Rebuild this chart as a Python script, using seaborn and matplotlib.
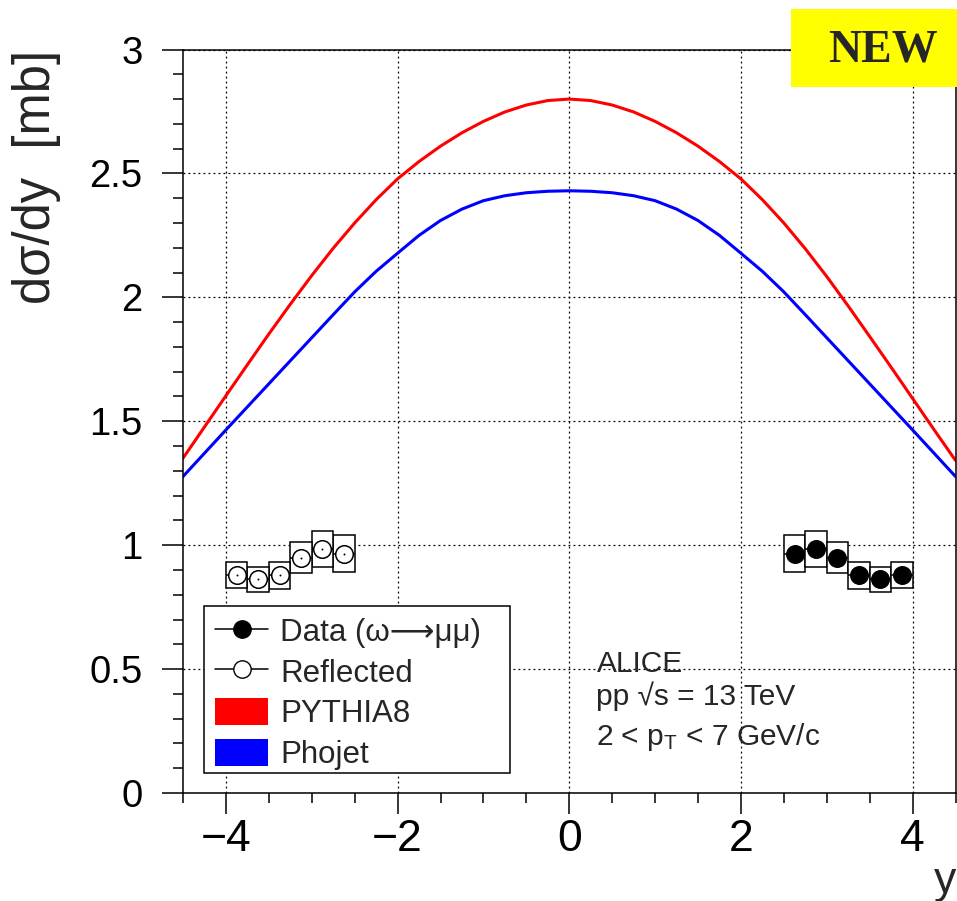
import numpy as np
import pandas as pd
import matplotlib
matplotlib.use("Agg")
import matplotlib.pyplot as plt
import seaborn as sns
from matplotlib.lines import Line2D
from matplotlib.patches import Patch, Rectangle
from matplotlib.ticker import MultipleLocator

# ---------------- data ----------------
rap_grid = [-4.5, -4.25, -4.0, -3.75, -3.5, -3.25, -3.0, -2.75, -2.5, -2.25, -2.0,
            -1.75, -1.5, -1.25, -1.0, -0.75, -0.5, -0.25, 0.0, 0.25, 0.5, 0.75, 1.0,
            1.25, 1.5, 1.75, 2.0, 2.25, 2.5, 2.75, 3.0, 3.25, 3.5, 3.75, 4.0, 4.25, 4.5]
pythia8 = [1.351, 1.477, 1.603, 1.728, 1.852, 1.972, 2.088, 2.198, 2.300, 2.394, 2.478,
           2.548, 2.610, 2.664, 2.710, 2.748, 2.776, 2.794, 2.800, 2.794, 2.776, 2.748,
           2.710, 2.664, 2.610, 2.548, 2.478, 2.394, 2.300, 2.196, 2.084, 1.965, 1.842,
           1.718, 1.592, 1.466, 1.342]
phojet = [1.277, 1.371, 1.465, 1.558, 1.651, 1.744, 1.837, 1.930, 2.022, 2.105, 2.178,
          2.250, 2.310, 2.356, 2.390, 2.410, 2.422, 2.428, 2.430, 2.428, 2.422, 2.410,
          2.390, 2.356, 2.310, 2.250, 2.178, 2.105, 2.022, 1.930, 1.837, 1.744, 1.651,
          1.558, 1.465, 1.371, 1.277]

data_rap = [2.625, 2.875, 3.125, 3.375, 3.625, 3.875]
data_val = [0.966, 0.985, 0.950, 0.878, 0.862, 0.880]
data_sys = [0.075, 0.074, 0.062, 0.053, 0.051, 0.052]
bin_halfwidth = 0.125
refl_rap = [-v for v in data_rap]

x_ticks = [-4, -2, 0, 2, 4]
y_ticks = [0, 0.5, 1, 1.5, 2, 2.5, 3]
y_ticklabels = ["0", "0.5", "1", "1.5", "2", "2.5", "3"]
x_ticklabels = ["\u22124", "\u22122", "0", "2", "4"]

# ---------------- style ----------------
sns.set_theme(style="white")
plt.rcParams["font.family"] = ["Liberation Sans", "DejaVu Sans"]
plt.rcParams["mathtext.fontset"] = "custom"
plt.rcParams["mathtext.rm"] = "Liberation Sans"
plt.rcParams["mathtext.it"] = "Liberation Sans:italic"

W, H = 957, 901
fig = plt.figure(figsize=(W / 100, H / 100), dpi=100)
ax_left, ax_right, ax_top, ax_bottom = 183, 955.5, 49.5, 793
ax = fig.add_axes([ax_left / W, 1 - ax_bottom / H,
                   (ax_right - ax_left) / W, (ax_bottom - ax_top) / H])


def ax_x(px):
    return (px - ax_left) / (ax_right - ax_left)


def ax_y(py):
    return (ax_bottom - py) / (ax_bottom - ax_top)


curves = pd.DataFrame({"y": rap_grid, "PYTHIA8": pythia8, "Phojet": phojet})

sns.lineplot(data=curves, x="y", y="PYTHIA8", color="#ff0000", linewidth=2.2,
             ax=ax, zorder=2)
sns.lineplot(data=curves, x="y", y="Phojet", color="#0000ff", linewidth=2.2,
             ax=ax, zorder=2)

# systematic boxes
ax.bar(data_rap, [2 * s for s in data_sys],
       bottom=[v - s for v, s in zip(data_val, data_sys)],
       width=2 * bin_halfwidth, color="white", edgecolor="black", linewidth=1.1, zorder=3)
ax.bar(refl_rap, [2 * s for s in data_sys],
       bottom=[v - s for v, s in zip(data_val, data_sys)],
       width=2 * bin_halfwidth, color="white", edgecolor="black", linewidth=1.1, zorder=3)

# horizontal bin-width lines
ax.errorbar(data_rap, data_val, xerr=bin_halfwidth, fmt="none", ecolor="black",
            elinewidth=1.1, capsize=0, zorder=4)
ax.errorbar(refl_rap, data_val, xerr=bin_halfwidth, fmt="none", ecolor="black",
            elinewidth=1.1, capsize=0, zorder=4)

pts = pd.DataFrame({"y": data_rap, "val": data_val})
refl = pd.DataFrame({"y": refl_rap, "val": data_val})
sns.scatterplot(data=pts, x="y", y="val", color="black", edgecolor="black",
                s=160, marker="o", ax=ax, zorder=5, linewidth=1.0)
sns.scatterplot(data=refl, x="y", y="val", color="white", edgecolor="black",
                s=160, marker="o", ax=ax, zorder=5, linewidth=1.1)
sns.scatterplot(data=refl, x="y", y="val", color="black", edgecolor="black",
                s=2, marker="o", ax=ax, zorder=6, linewidth=0)

# axes
ax.set_xlim(-4.5, 4.5)
ax.set_ylim(0, 3)
ax.set_xlabel("")
ax.set_ylabel("")
ax.set_xticks(x_ticks)
ax.set_xticklabels(x_ticklabels)
ax.set_yticks(y_ticks)
ax.set_yticklabels(y_ticklabels)
ax.xaxis.set_minor_locator(MultipleLocator(0.5))
ax.yaxis.set_minor_locator(MultipleLocator(0.1))
ax.tick_params(axis="x", which="major", direction="out", length=15, width=1.1,
               labelsize=32, pad=4, color="black", labelcolor="black",
               bottom=True, top=False)
ax.tick_params(axis="x", which="minor", direction="out", length=7.5, width=1.1,
               bottom=True, top=False, color="black")
ax.tick_params(axis="y", which="major", direction="out", length=15, width=1.1,
               labelsize=27.5, pad=14, color="black", labelcolor="black",
               left=True, right=False)
ax.tick_params(axis="y", which="minor", direction="out", length=7.5, width=1.1,
               left=True, right=False, color="black")
for sp in ax.spines.values():
    sp.set_visible(True)
    sp.set_color("black")
    sp.set_linewidth(1.1)

ax.grid(True, which="major", color="black", linewidth=0.9,
        linestyle=(0, (1.5, 2.5)))
ax.set_axisbelow(True)

# legend frame (drawn separately so its size matches the reference box)
leg_box = Rectangle((ax_x(203.5), ax_y(772.5)), ax_x(510) - ax_x(203.5),
                    ax_y(606) - ax_y(772.5), transform=ax.transAxes,
                    facecolor="white", edgecolor="black", linewidth=1.1, zorder=9)
ax.add_patch(leg_box)

handles = [
    Line2D([0], [0], color="black", lw=1.1, marker="o", markersize=12.5,
           markerfacecolor="black", markeredgecolor="black"),
    Line2D([0], [0], color="black", lw=1.1, marker="o", markersize=12.5,
           markerfacecolor="white", markeredgecolor="black"),
    Patch(facecolor="#ff0000", edgecolor="none"),
    Patch(facecolor="#0000ff", edgecolor="none"),
]
labels = ["Data (\u03c9\u27f6\u03bc\u03bc)", "Reflected", "PYTHIA8", "Phojet"]
leg = ax.legend(handles, labels, loc="upper left",
                bbox_to_anchor=(ax_x(215), ax_y(616.5)),
                frameon=False, fontsize=22.5, borderaxespad=0, borderpad=0,
                handlelength=1.7, handleheight=0.96, handletextpad=0.38,
                labelspacing=0.30)
leg.set_zorder(10)

# annotation text
tx = 596.5 / W
fig.text(tx, 1 - 672 / H, "ALICE", fontsize=21.5, va="baseline", ha="left")
fig.text(tx, 1 - 705 / H, "pp \u221as = 13 TeV", fontsize=21.5, va="baseline", ha="left")
fig.text(tx, 1 - 745 / H, r"2 < p$_\mathregular{T}$ < 7 GeV/c", fontsize=21.5,
         va="baseline", ha="left")

# axis titles
fig.text(37 / W, 1 - 50 / H, "d\u03c3/dy  [mb]", rotation=90, fontsize=36.5,
         ha="center", va="top")
fig.text(956 / W, 1 - 882 / H, "y", fontsize=32, ha="right", va="center")

# NEW badge
badge = Rectangle((791 / W, 1 - 87 / H), (W - 791) / W, 78 / H,
                  transform=fig.transFigure, facecolor="#ffff00", edgecolor="none",
                  zorder=20)
fig.patches.append(badge)
fig.text(882.5 / W, 1 - 51 / H, "NEW", fontsize=33, fontweight="bold",
         family=["Liberation Serif", "DejaVu Serif"], ha="center", va="center",
         zorder=21)

fig.savefig("out.png", dpi=100)
